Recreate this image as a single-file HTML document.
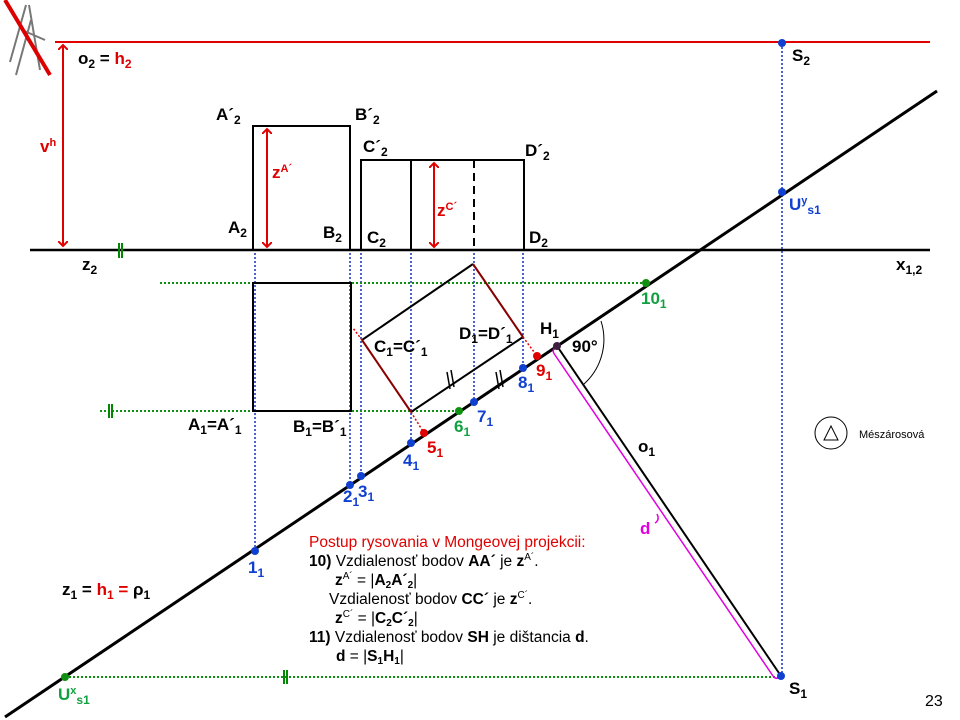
<!DOCTYPE html>
<html><head><meta charset="utf-8"><style>
body{margin:0;background:#fff}
svg{display:block;font-family:"Liberation Sans",Arial,sans-serif}
.b{font-weight:bold;font-size:17px}
</style></head><body>
<svg width="960" height="720" viewBox="0 0 960 720" xmlns="http://www.w3.org/2000/svg">
<defs>
<marker id="ar" markerWidth="10" markerHeight="10" refX="5" refY="5" orient="auto-start-reverse" markerUnits="userSpaceOnUse"><path d="M0,0 L5,5 L0,10" fill="none" stroke="#e00000" stroke-width="2"/></marker>
</defs>
<g stroke="#777" stroke-width="2" fill="none">
<line x1="26" y1="5" x2="10" y2="62"/><line x1="29" y1="5" x2="40" y2="70"/><line x1="31" y1="20" x2="16" y2="75"/><line x1="22" y1="30" x2="45" y2="40"/>
<line x1="5" y1="0" x2="50" y2="75" stroke="#d00" stroke-width="4"/>
</g>
<line x1="55" y1="42" x2="930" y2="42" stroke="#e00000" stroke-width="2"/>
<line x1="63" y1="45" x2="63" y2="246" stroke="#e00000" stroke-width="2" marker-start="url(#ar)" marker-end="url(#ar)"/>
<line x1="30" y1="250" x2="930" y2="250" stroke="#000" stroke-width="2.5"/>
<line x1="119" y1="243" x2="119" y2="258" stroke="#080" stroke-width="2"/><line x1="122" y1="243" x2="122" y2="258" stroke="#080" stroke-width="2"/>
<rect x="253" y="126" width="97" height="124" fill="none" stroke="#000" stroke-width="2"/>
<rect x="361" y="160" width="163" height="90" fill="none" stroke="#000" stroke-width="2"/>
<line x1="411" y1="160" x2="411" y2="250" stroke="#000" stroke-width="2"/>
<line x1="474" y1="160" x2="474" y2="250" stroke="#000" stroke-width="2" stroke-dasharray="8,5"/>
<line x1="267" y1="129" x2="267" y2="247" stroke="#e00000" stroke-width="2" marker-start="url(#ar)" marker-end="url(#ar)"/>
<line x1="434" y1="163" x2="434" y2="247" stroke="#e00000" stroke-width="2" marker-start="url(#ar)" marker-end="url(#ar)"/>
<g stroke="#1030c0" stroke-width="1.5" stroke-dasharray="2,2">
<line x1="255" y1="253" x2="255" y2="551"/>
<line x1="350" y1="253" x2="350" y2="485"/>
<line x1="361" y1="253" x2="361" y2="476"/>
<line x1="411" y1="253" x2="411" y2="443"/>
<line x1="474" y1="253" x2="474" y2="402"/>
<line x1="523" y1="253" x2="523" y2="368"/>
<line x1="782" y1="43" x2="782" y2="676"/>
</g>
<g stroke="#109010" stroke-width="2" stroke-dasharray="2,2">
<line x1="160" y1="283" x2="646" y2="283"/>
<line x1="100" y1="411" x2="459" y2="411"/>
<line x1="65" y1="677" x2="780" y2="677"/>
</g>
<g stroke="#080" stroke-width="2">
<line x1="109" y1="404" x2="109" y2="418"/><line x1="112" y1="404" x2="112" y2="418"/>
<line x1="284" y1="670" x2="284" y2="684"/><line x1="287" y1="670" x2="287" y2="684"/>
</g>
<rect x="253" y="283" width="98" height="128" fill="none" stroke="#000" stroke-width="2"/>
<line x1="362" y1="340" x2="473" y2="264" stroke="#000" stroke-width="2"/>
<line x1="411" y1="412" x2="523" y2="337" stroke="#000" stroke-width="2"/>
<line x1="362" y1="340" x2="411" y2="412" stroke="#800" stroke-width="2"/>
<line x1="473" y1="264" x2="523" y2="337" stroke="#800" stroke-width="2"/>
<g stroke="#e00000" stroke-width="1.5" stroke-dasharray="2,2">
<line x1="411" y1="412" x2="424" y2="433"/><line x1="523" y1="337" x2="537" y2="356"/><line x1="362" y1="340" x2="353" y2="328"/>
</g>
<g stroke="#000" stroke-width="1.5"><line x1="447" y1="372" x2="450" y2="389"/><line x1="451" y1="370" x2="454" y2="387"/>
<line x1="496" y1="372" x2="499" y2="389"/><line x1="500" y1="370" x2="503" y2="387"/></g>
<line x1="5" y1="717" x2="937" y2="91" stroke="#000" stroke-width="3"/>
<line x1="557" y1="346" x2="781" y2="676" stroke="#000" stroke-width="2"/>
<path d="M555,355 L773,676" stroke="#e000e0" stroke-width="1.5" fill="none"/>
<path d="M555,355 Q551,350 556,347" stroke="#e000e0" stroke-width="1.5" fill="none"/>
<path d="M657,514 Q660,520 655,523" stroke="#e000e0" stroke-width="1.5" fill="none"/>
<path d="M773,676 Q776,680 781,677" stroke="#e000e0" stroke-width="1.5" fill="none"/>
<path d="M601,321 A60,60 0 0 1 584,384" stroke="#000" stroke-width="1" fill="none"/>
<g fill="#1040d0">
<circle cx="255" cy="551" r="4"/><circle cx="350" cy="485" r="4"/><circle cx="361" cy="476" r="4"/><circle cx="411" cy="443" r="4"/>
<circle cx="474" cy="402" r="4"/><circle cx="523" cy="368" r="4"/><circle cx="782" cy="192" r="4"/><circle cx="782" cy="43" r="4"/><circle cx="781" cy="676" r="4"/>
</g>
<g fill="#e00000"><circle cx="424" cy="433" r="4"/><circle cx="537" cy="356" r="4"/></g>
<g fill="#109010"><circle cx="459" cy="411" r="4"/><circle cx="646" cy="283" r="4"/><circle cx="65" cy="677" r="4"/></g>
<circle cx="557" cy="346" r="4" fill="#402040"/>
<g class="b" fill="#000">
<text x="78" y="64">o<tspan font-size="12" dy="4">2</tspan><tspan dy="-4"> = </tspan><tspan fill="#e00000">h<tspan font-size="12" dy="4">2</tspan></tspan></text>
<text x="216" y="120">A´<tspan font-size="12" dy="4">2</tspan></text>
<text x="355" y="120">B´<tspan font-size="12" dy="4">2</tspan></text>
<text x="363" y="152">C´<tspan font-size="12" dy="4">2</tspan></text>
<text x="525" y="156">D´<tspan font-size="12" dy="4">2</tspan></text>
<text x="228" y="233">A<tspan font-size="12" dy="4">2</tspan></text>
<text x="323" y="238">B<tspan font-size="12" dy="4">2</tspan></text>
<text x="367" y="243">C<tspan font-size="12" dy="4">2</tspan></text>
<text x="529" y="243">D<tspan font-size="12" dy="4">2</tspan></text>
<text x="82" y="270">z<tspan font-size="12" dy="4">2</tspan></text>
<text x="896" y="270">x<tspan font-size="12" dy="4">1,2</tspan></text>
<text x="792" y="61">S<tspan font-size="12" dy="4">2</tspan></text>
<text x="188" y="430">A<tspan font-size="12" dy="4">1</tspan><tspan dy="-4">=A´</tspan><tspan font-size="12" dy="4">1</tspan></text>
<text x="293" y="432">B<tspan font-size="12" dy="4">1</tspan><tspan dy="-4">=B´</tspan><tspan font-size="12" dy="4">1</tspan></text>
<text x="374" y="352">C<tspan font-size="12" dy="4">1</tspan><tspan dy="-4">=C´</tspan><tspan font-size="12" dy="4">1</tspan></text>
<text x="459" y="339">D<tspan font-size="12" dy="4">1</tspan><tspan dy="-4">=D´</tspan><tspan font-size="12" dy="4">1</tspan></text>
<text x="540" y="334">H<tspan font-size="12" dy="4">1</tspan></text>
<text x="572" y="352">90°</text>
<text x="638" y="452">o<tspan font-size="12" dy="4">1</tspan></text>
<text x="789" y="694">S<tspan font-size="12" dy="4">1</tspan></text>
<text x="62" y="595">z<tspan font-size="12" dy="4">1</tspan><tspan dy="-4"> = </tspan><tspan fill="#e00000">h<tspan font-size="12" dy="4">1</tspan><tspan dy="-4"> = </tspan></tspan> ρ<tspan font-size="12" dy="4">1</tspan></text>
</g>
<g class="b" fill="#e00000">
<text x="40" y="152">v<tspan font-size="11" dy="-6">h</tspan></text>
<text x="272" y="178">z<tspan font-size="11" dy="-6">A´</tspan></text>
<text x="437" y="216">z<tspan font-size="11" dy="-6">C´</tspan></text>
<text x="427" y="453">5<tspan font-size="12" dy="4">1</tspan></text>
<text x="536" y="376">9<tspan font-size="12" dy="4">1</tspan></text>
</g>
<g class="b" fill="#1040d0">
<text x="248" y="573">1<tspan font-size="12" dy="4">1</tspan></text>
<text x="343" y="502">2<tspan font-size="12" dy="4">1</tspan></text>
<text x="358" y="497">3<tspan font-size="12" dy="4">1</tspan></text>
<text x="403" y="466">4<tspan font-size="12" dy="4">1</tspan></text>
<text x="477" y="422">7<tspan font-size="12" dy="4">1</tspan></text>
<text x="518" y="388">8<tspan font-size="12" dy="4">1</tspan></text>
<text x="789" y="210">U<tspan font-size="11" dy="-6">y</tspan><tspan font-size="12" dy="10">s1</tspan></text>
</g>
<g class="b" fill="#10a040">
<text x="454" y="432">6<tspan font-size="12" dy="4">1</tspan></text>
<text x="641" y="304">10<tspan font-size="12" dy="4">1</tspan></text>
<text x="58" y="700">U<tspan font-size="11" dy="-6">x</tspan><tspan font-size="12" dy="10">s1</tspan></text>
</g>
<text x="640" y="534" class="b" fill="#e000e0">d</text>
<circle cx="831" cy="433" r="16" fill="none" stroke="#000" stroke-width="1"/>
<path d="M824,440 L831,426 L838,440 Z" fill="none" stroke="#000" stroke-width="1"/>
<text x="859" y="438" font-size="11" fill="#000">Mészárosová</text>
<text x="925" y="706" font-size="16" fill="#000">23</text>
<g font-size="15.5" fill="#000">
<text x="309" y="547" fill="#e00000">Postup rysovania  v Mongeovej projekcii:</text>
<text x="309" y="566"><tspan font-weight="bold">10)</tspan> Vzdialenosť bodov <tspan font-weight="bold">AA´</tspan> je <tspan font-weight="bold">z</tspan><tspan font-size="10" dy="-6">A´</tspan><tspan dy="6">.</tspan></text>
<text x="335" y="585"><tspan font-weight="bold">z</tspan><tspan font-size="10" dy="-6">A´</tspan><tspan dy="6"> = |</tspan><tspan font-weight="bold">A</tspan><tspan font-size="10" dy="3" font-weight="bold">2</tspan><tspan dy="-3" font-weight="bold">A´</tspan><tspan font-size="10" dy="3" font-weight="bold">2</tspan><tspan dy="-3">|</tspan></text>
<text x="329" y="604">Vzdialenosť bodov <tspan font-weight="bold">CC´</tspan> je <tspan font-weight="bold">z</tspan><tspan font-size="10" dy="-6">C´</tspan><tspan dy="6">.</tspan></text>
<text x="335" y="623"><tspan font-weight="bold">z</tspan><tspan font-size="10" dy="-6">C´</tspan><tspan dy="6"> = |</tspan><tspan font-weight="bold">C</tspan><tspan font-size="10" dy="3" font-weight="bold">2</tspan><tspan dy="-3" font-weight="bold">C´</tspan><tspan font-size="10" dy="3" font-weight="bold">2</tspan><tspan dy="-3">|</tspan></text>
<text x="309" y="642"><tspan font-weight="bold">11)</tspan> Vzdialenosť bodov <tspan font-weight="bold">SH</tspan> je dištancia <tspan font-weight="bold">d</tspan>.</text>
<text x="336" y="661"><tspan font-weight="bold">d</tspan> = |<tspan font-weight="bold">S</tspan><tspan font-size="10" dy="3" font-weight="bold">1</tspan><tspan dy="-3" font-weight="bold">H</tspan><tspan font-size="10" dy="3" font-weight="bold">1</tspan><tspan dy="-3">|</tspan></text>
</g>
</svg>
</body></html>
